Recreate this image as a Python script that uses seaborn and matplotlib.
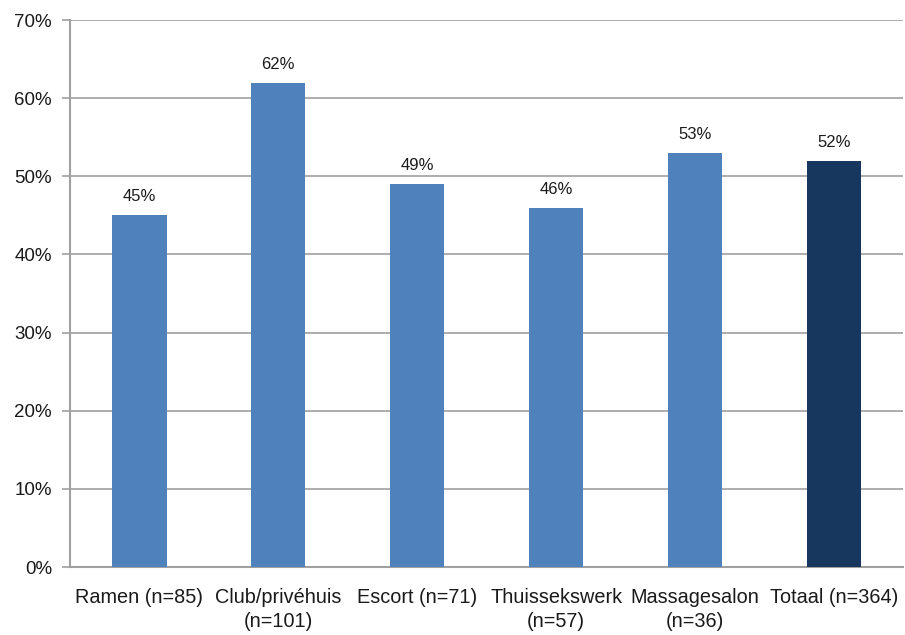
import numpy as np
import pandas as pd
import matplotlib
matplotlib.use("Agg")
import matplotlib.pyplot as plt
import seaborn as sns

categories = ["Ramen (n=85)", "Club/privéhuis\n(n=101)", "Escort (n=71)",
              "Thuissekswerk\n(n=57)", "Massagesalon\n(n=36)", "Totaal (n=364)"]
values = [45, 62, 49, 46, 53, 52]
bar_colors = ["#4F81BD", "#4F81BD", "#4F81BD", "#4F81BD", "#4F81BD", "#17375E"]
y_ticks = [0, 10, 20, 30, 40, 50, 60, 70]

df = pd.DataFrame({"cat": categories, "val": values})

sns.set_style("white")
plt.rcParams["font.family"] = ["Liberation Sans", "DejaVu Sans"]

fig = plt.figure(figsize=(9.05, 6.35), dpi=100)
ax = fig.add_axes([0.0773, 0.107, 0.921, 0.8615])

sns.barplot(data=df, x="cat", y="val", hue="cat", palette=bar_colors,
            legend=False, width=0.39, saturation=1, linewidth=0, ax=ax, zorder=3)

grid_col = "#A0A0A0"
ax.set_ylim(0, 70)
ax.set_yticks(y_ticks)
ax.set_yticklabels([f"{t}%" for t in y_ticks], fontsize=13.5, color="#1a1a1a")
ax.yaxis.grid(True, color=grid_col, linewidth=1.2, zorder=0)
ax.set_xlim(-0.5, len(categories) - 0.5)

# tick marks between categories
ax.set_xticks(np.arange(len(categories) + 1) - 0.5, minor=True)
ax.tick_params(axis="x", which="minor", length=5, color=grid_col, width=1.2)
ax.tick_params(axis="x", which="major", length=0, labelsize=14.3, labelcolor="#1a1a1a", pad=15)
ax.tick_params(axis="y", length=6, color=grid_col, width=1.2, left=True, pad=7)
for lbl in ax.get_xticklabels():
    lbl.set_linespacing(1.35)

for s in ["top", "right"]:
    ax.spines[s].set_visible(False)
for s in ["left", "bottom"]:
    ax.spines[s].set_color(grid_col)
    ax.spines[s].set_linewidth(1.5)

ax.set_xlabel("")
ax.set_ylabel("")

for i, v in enumerate(values):
    ax.text(i, v + 1.4, f"{v}%", ha="center", va="bottom", fontsize=12, color="#1a1a1a")

fig.savefig("out.png", dpi=100)
